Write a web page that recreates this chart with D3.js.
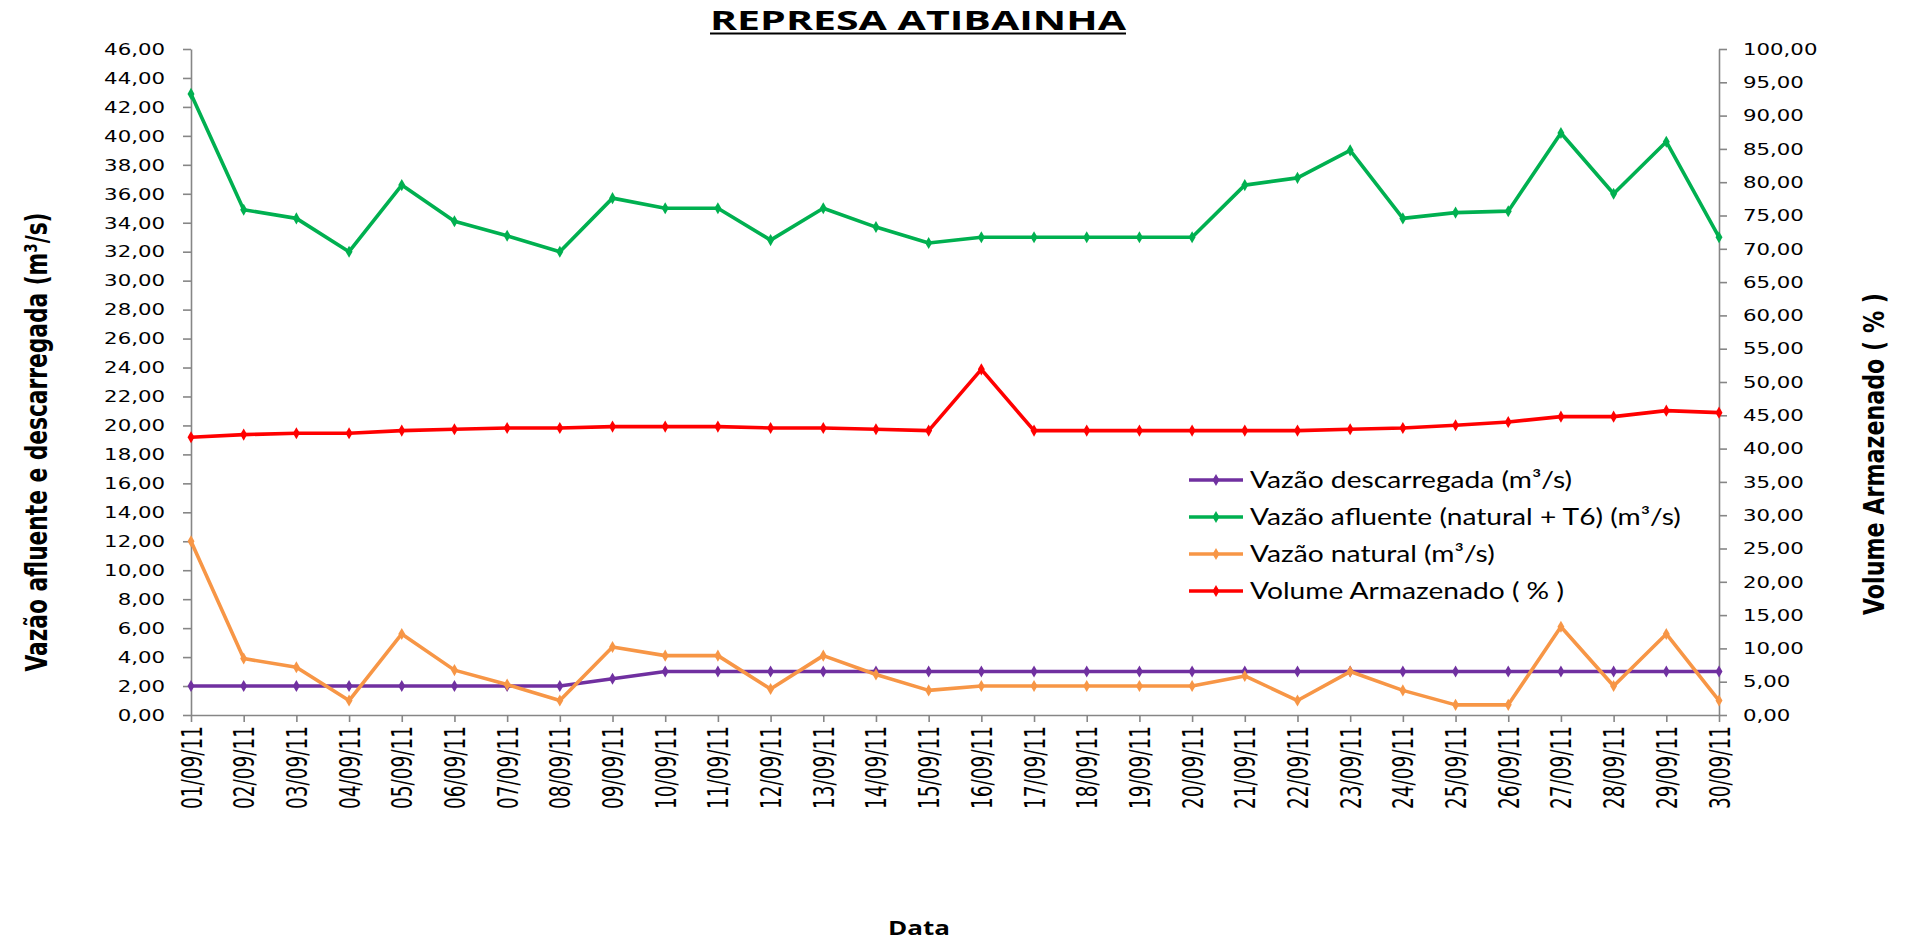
<!DOCTYPE html>
<html><head><meta charset="utf-8">
<script src="https://cdn.jsdelivr.net/npm/d3@7"></script>
<style>body{margin:0;background:#fff} svg{display:block}</style>
</head><body><svg id="c" width="1909" height="944"></svg>
<script>
const dates = ['01/09/11','02/09/11','03/09/11','04/09/11','05/09/11','06/09/11','07/09/11','08/09/11','09/09/11','10/09/11',
  '11/09/11','12/09/11','13/09/11','14/09/11','15/09/11','16/09/11','17/09/11','18/09/11','19/09/11','20/09/11',
  '21/09/11','22/09/11','23/09/11','24/09/11','25/09/11','26/09/11','27/09/11','28/09/11','29/09/11','30/09/11'];
const descarregada = [2,2,2,2,2,2,2,2,2.5,3,3,3,3,3,3,3,3,3,3,3,3,3,3,3,3,3,3,3,3,3];
const afluente = [42.9,34.9,34.3,32.0,36.6,34.1,33.1,32.0,35.7,35.0,35.0,32.8,35.0,33.7,32.6,33.0,33.0,33.0,33.0,33.0,36.6,37.1,39.0,34.3,34.7,34.8,40.2,36.0,39.6,33.0];
const natural = [12.0,3.9,3.3,1.0,5.6,3.1,2.1,1.0,4.7,4.1,4.1,1.8,4.1,2.8,1.7,2.0,2.0,2.0,2.0,2.0,2.7,1.0,3.0,1.7,0.7,0.7,6.1,2.0,5.6,1.0];
const volume = [41.7,42.1,42.3,42.3,42.7,42.9,43.1,43.1,43.3,43.3,43.3,43.1,43.1,42.9,42.7,51.9,42.7,42.7,42.7,42.7,42.7,42.7,42.9,43.1,43.5,44.0,44.8,44.8,45.7,45.4];
const leftTicks = d3.range(0, 46.01, 2);
const rightTicks = d3.range(0, 100.01, 5);
const seriesNames = ['Vazão descarregada (m³/s)','Vazão afluente (natural + T6) (m³/s)','Vazão natural (m³/s)','Volume Armazenado ( % )'];
const seriesColors = ['#7030A0','#00B050','#F79646','#FF0000'];
const titleText = 'REPRESA ATIBAINHA';
const leftTitle = 'Vazão afluente e descarregada (m³/s)';
const rightTitle = 'Volume Armazenado ( % )';
const xTitle = 'Data';

const svg = d3.select('#c');
const X0 = 191, X1 = 1719, Y0 = 715, Y1 = 49;
const x = d3.scalePoint().domain(dates).range([X0, X1]);
const yL = d3.scaleLinear().domain([0, 46]).range([Y0, Y1]);
const yR = d3.scaleLinear().domain([0, 100]).range([Y0, Y1]);
const fmt = d => d.toFixed(2).replace('.', ',');
const axisColor = '#868686';
const tickFont = 'DejaVu Sans, Verdana, sans-serif';
const SX = 1.29;

function styleAxis(g) {
  g.select('.domain').attr('stroke', axisColor).attr('stroke-width', 1.6);
  g.selectAll('.tick line').attr('stroke', axisColor).attr('stroke-width', 1.6);
  g.selectAll('.tick text').attr('fill', '#000').style('font-family', tickFont).style('font-size', '16.5px');
}

// left axis
const gL = svg.append('g').attr('transform', `translate(${X0},0)`)
  .call(d3.axisLeft(yL).tickValues(leftTicks).tickFormat(fmt).tickSizeInner(8).tickSizeOuter(0));
styleAxis(gL);
gL.selectAll('.tick text').attr('x', -26 / SX).attr('transform', `scale(${SX},1)`);

// right axis
const gR = svg.append('g').attr('transform', `translate(${X1},0)`)
  .call(d3.axisRight(yR).tickValues(rightTicks).tickFormat(fmt).tickSizeInner(8).tickSizeOuter(0));
styleAxis(gR);
gR.selectAll('.tick text').attr('x', 24 / SX).attr('transform', `scale(${SX},1)`);

// bottom axis
const gB = svg.append('g').attr('transform', `translate(0,${Y0})`)
  .call(d3.axisBottom(x).tickSizeInner(7).tickSizeOuter(0));
styleAxis(gB);
gB.selectAll('.tick text')
  .style('font-size', '18.5px')
  .attr('text-anchor', 'end')
  .attr('x', -11).attr('y', 0).attr('dy', '0.36em')
  .attr('transform', 'scale(1.5,1) rotate(-90)');

// series
const series = [
  {vals: descarregada, y: yL, c: seriesColors[0]},
  {vals: afluente, y: yL, c: seriesColors[1]},
  {vals: natural, y: yL, c: seriesColors[2]},
  {vals: volume, y: yR, c: seriesColors[3]}
];
const diamond = d3.symbol().type(d3.symbolDiamond).size(42);
series.forEach(s => {
  const line = d3.line().x((d, i) => x(dates[i])).y(d => s.y(d));
  svg.append('path').datum(s.vals).attr('d', line).attr('fill', 'none')
    .attr('stroke', s.c).attr('stroke-width', 3.6).attr('stroke-linejoin', 'round');
  svg.append('g').selectAll('path').data(s.vals).join('path')
    .attr('d', diamond).attr('fill', s.c)
    .attr('transform', (d, i) => `translate(${x(dates[i])},${s.y(d)})`);
});

// legend
const lg = svg.append('g');
const legRows = lg.selectAll('g').data(seriesNames).join('g')
  .attr('transform', (d, i) => `translate(1189,${480 + i * 37})`);
legRows.append('line').attr('x1', 0).attr('x2', 54).attr('y1', 0).attr('y2', 0)
  .attr('stroke', (d, i) => seriesColors[i]).attr('stroke-width', 3.6);
legRows.append('path').attr('d', diamond).attr('transform', 'translate(27,0)').attr('fill', (d, i) => seriesColors[i]);
const legText = legRows.append('text').attr('x', 61).attr('dy', '0.35em').text(d => d)
  .style('font-family', 'Lato, Open Sans, sans-serif').style('font-size', '24px').attr('fill', '#000');
const longest = legText.nodes()[1].getComputedTextLength();
const lsx = 431 / longest;
legText.attr('x', 61 / lsx).attr('transform', `scale(${lsx},1)`);

// title
svg.append('text').attr('x', 918).attr('y', 30).attr('text-anchor', 'middle')
  .style('font-family', 'Open Sans, sans-serif').style('font-weight', 'bold').style('font-size', '27px')
  .attr('textLength', 416).attr('lengthAdjust', 'spacingAndGlyphs').text(titleText);
svg.append('line').attr('x1', 710).attr('x2', 1126).attr('y1', 33.5).attr('y2', 33.5).attr('stroke', '#000').attr('stroke-width', 2);

// axis titles
const condensed = 'DejaVu Sans Condensed, Liberation Sans Narrow, Open Sans, sans-serif';
svg.append('text').attr('transform', 'translate(47,442) rotate(-90)').attr('text-anchor', 'middle')
  .style('font-family', condensed).style('font-weight', 'bold').style('font-size', '31px')
  .attr('textLength', 459).attr('lengthAdjust', 'spacingAndGlyphs').text(leftTitle);
svg.append('text').attr('transform', 'translate(1884,454) rotate(-90)').attr('text-anchor', 'middle')
  .style('font-family', condensed).style('font-weight', 'bold').style('font-size', '28px')
  .attr('textLength', 322).attr('lengthAdjust', 'spacingAndGlyphs').text(rightTitle);
svg.append('text').attr('x', 919).attr('y', 935).attr('text-anchor', 'middle')
  .style('font-family', 'Open Sans, sans-serif').style('font-weight', 'bold').style('font-size', '19px')
  .attr('textLength', 62).attr('lengthAdjust', 'spacingAndGlyphs').text(xTitle);
</script></body></html>
